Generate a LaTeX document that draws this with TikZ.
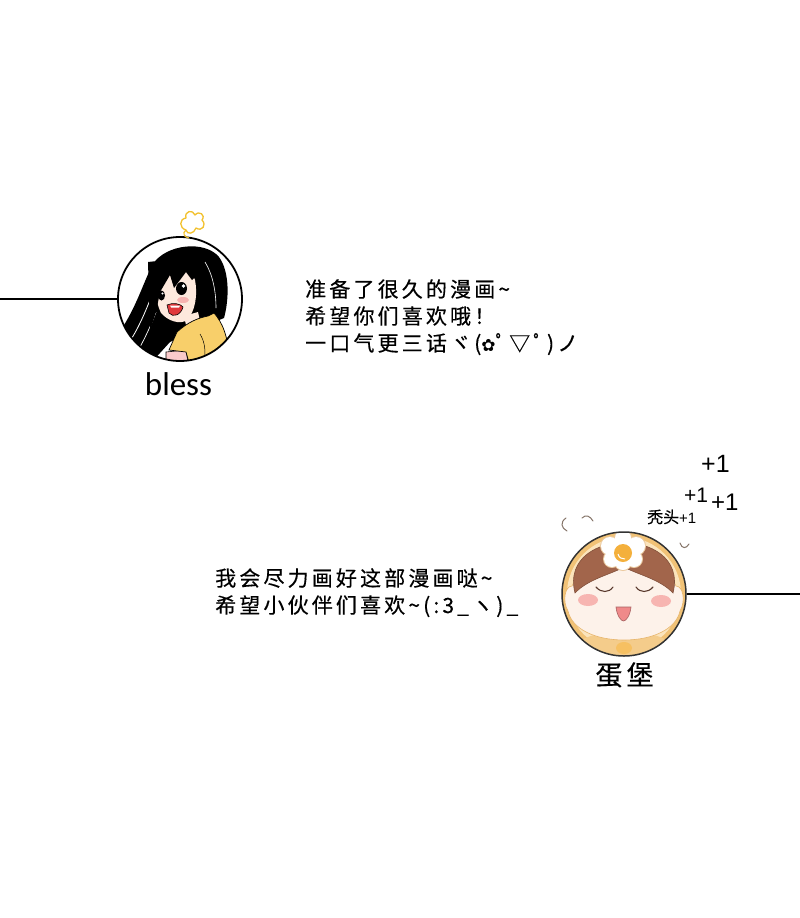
\documentclass[tikz,border=0pt]{standalone}
\usepackage{fontspec}
\setmainfont{Carlito}
\newfontfamily\cjk[LetterSpace=15,FakeBold=0.4]{Noto Sans CJK SC}
\newfontfamily\cjkn[FakeBold=0.3]{Noto Sans CJK SC}
\newfontfamily\dv{DejaVu Sans}
\newfontfamily\arl{Liberation Sans}
\definecolor{skin}{HTML}{FDE9DD}
\definecolor{shirt}{HTML}{F8CF6A}
\definecolor{blush}{HTML}{F6A7A6}
\definecolor{mouthred}{HTML}{E0393C}
\definecolor{flower}{HTML}{F2C12E}
\definecolor{rim}{HTML}{F1C276}
\definecolor{rimin}{HTML}{FBE4BC}
\definecolor{bun}{HTML}{FDF2EA}
\definecolor{hairb}{HTML}{A2654B}
\definecolor{yolk}{HTML}{F4B03C}
\definecolor{cheek}{HTML}{F7B5B1}
\definecolor{tongue}{HTML}{EF8A8A}
\definecolor{eyeb}{HTML}{5A3A2E}
\definecolor{squig}{HTML}{857468}
\tikzset{
  avatar/.style={circle, minimum size=124pt, inner sep=0pt, draw=black, line width=1.8pt},
  conn/.style={draw=black, line width=1.8pt},
  say/.style={anchor=base west, inner sep=0pt, font=\cjk\fontsize{21}{21}\selectfont},
  plus/.style={anchor=base west, inner sep=0pt, text=black},
}
\begin{document}
\begin{tikzpicture}[x=1pt,y=-1pt]
\path[use as bounding box, fill=white] (0,0) rectangle (800,918);

% ---------- avatar 1 : girl ----------
\begin{scope}
\clip (180,299) circle (62pt);
\fill[white] (180,299) circle (62pt);
% hair back
\fill[black] (112,342) .. controls (135,314) and (143,282) .. (153,264)
  .. controls (166,244) and (205,240) .. (219,257)
  .. controls (230,272) and (229,300) .. (224,318)
  -- (200,328) -- (170,342) -- (150,364) -- (120,364) -- cycle;
% white strand gaps
\draw[white, line width=0.8pt] (150,300) .. controls (142,320) and (135,335) .. (125,348);
\draw[white, line width=0.7pt] (156,312) .. controls (150,328) and (143,342) .. (135,356);
\draw[white, line width=0.6pt] (205,262) .. controls (213,275) and (216,292) .. (216,308);
% face
\fill[skin] (158,274) .. controls (172,263) and (191,266) .. (195,280)
  .. controls (198,295) and (195,312) .. (187,320)
  .. controls (180,325) and (168,321) .. (161,313)
  .. controls (155,300) and (154,286) .. (158,274) -- cycle;
\fill[skin] (184,316) -- (198,312) -- (202,330) -- (188,334) -- cycle;
% bangs
\fill[black] (148,262) -- (204,256) -- (198,274) -- (192,280) -- (186,272)
  -- (174,288) -- (170,275) -- (160,292) -- (156,312) -- (150,330) -- cycle;
% eyes
\fill[black] (181.5,288.5) ellipse [x radius=5.5pt, y radius=6.5pt];
\fill[white] (183.5,286) circle (1.9pt);
\fill[black] (161.5,295.5) ellipse [x radius=3.5pt, y radius=5pt];
\fill[white] (162.5,293.5) circle (1.2pt);
% blush
\fill[blush, opacity=0.8] (183,300) ellipse [x radius=6pt, y radius=3pt];
% mouth
\filldraw[fill=mouthred, draw=black, line width=0.6pt] (167,305) .. controls (173,302) and (181,304) .. (183,307)
  .. controls (181,315) and (173,318) .. (169,313) -- cycle;
\fill[white] (170,305.5) -- (180,305.5) -- (179,307.5) -- (171,307.5) -- cycle;
% arm
\filldraw[fill=blush!60, draw=black, line width=0.6pt] (166,352) -- (186,350) -- (188,362) -- (166,364) -- cycle;
% shirt
\filldraw[fill=shirt, draw=black, line width=0.7pt] (169,350) -- (177,332)
  .. controls (188,322) and (198,318) .. (208,316) -- (214,313)
  .. controls (222,322) and (228,335) .. (230,362) -- (190,366) -- (186,352) -- cycle;
\draw[black, line width=0.5pt] (200,334) .. controls (205,342) and (206,352) .. (204,362);
\end{scope}
\node[avatar] (a1) at (180,299) {};

% flower
\draw[flower, line width=1.3pt, line join=round]
  (186,230) .. controls (179,228) and (179,219) .. (186,218)
  .. controls (184,211) and (193,209) .. (195,215)
  .. controls (199,210) and (206,215) .. (202,220)
  .. controls (207,225) and (202,232) .. (196,228)
  .. controls (194,234) and (187,235) .. (186,230) -- cycle;
\draw[flower, line width=1.2pt] (186,230) .. controls (182,233) and (184,237) .. (189,238);

\coordinate (L1) at (0,299);
\draw[conn] (L1) -- (a1.west);

\node[anchor=base, inner sep=0pt, font=\fontsize{33}{33}\selectfont] (n1) at (178.5,395) {bless};

% ---------- text block 1 ----------
\node[say] (t1a) at (305,297) {准备了很久的漫画\textasciitilde};
\node[say] (t1b) at (305,324) {希望你们喜欢哦！};
\node[say] (t1c) at (305,351) {一口气更三话ヾ({\dv\fontsize{17}{17}\selectfont ✿}ﾟ▽ﾟ)ノ};

% ---------- avatar 2 : bun ----------
\begin{scope}
\clip (624,594) circle (62pt);
\fill[rim] (624,594) circle (62pt);
\fill[rimin] (624,594) circle (57pt);
\fill[rim!70!rimin] (624,661) ellipse [x radius=60pt, y radius=30pt];
\fill[yolk!70!rimin] (624,648) ellipse [x radius=8pt, y radius=6pt];
% face
\filldraw[fill=bun, draw=rim!80!brown, line width=0.6pt]
  (572,586) .. controls (565,586) and (562,601) .. (568,611)
  .. controls (572,629) and (595,640) .. (624,640)
  .. controls (653,640) and (676,629) .. (680,611)
  .. controls (686,601) and (683,586) .. (676,586)
  .. controls (670,571) and (645,561) .. (624,561)
  .. controls (603,561) and (578,571) .. (572,586) -- cycle;
% hair
\filldraw[fill=hairb, draw=hairb!80!black, line width=0.6pt]
  (575,593) .. controls (566,557) and (600,542) .. (624,543)
  .. controls (648,542) and (682,557) .. (673,593)
  .. controls (660,579) and (636,574) .. (624,567)
  .. controls (612,574) and (588,579) .. (575,593) -- cycle;
% egg white
\foreach \p/\r in {{(610,546)}/9,{(636,546)}/9,{(623,538)}/8,{(612,559)}/8,{(634,559)}/8,{(623,562)}/8}
  \fill[rim!60!brown!60] \p circle (\r pt + 1pt);
\foreach \p/\r in {{(610,546)}/9,{(636,546)}/9,{(623,538)}/8,{(612,559)}/8,{(634,559)}/8,{(623,562)}/8}
  \fill[white] \p circle (\r pt);
\fill[white] (623,551) circle (12pt);
\fill[yolk] (623,553) circle (9pt);
\draw[white, line width=1pt] (618,554) .. controls (619,558) and (622,559) .. (625,559);
% eyes
\draw[eyeb, line width=1.1pt, line cap=round] (596,587) .. controls (601,593) and (609,593) .. (613,587);
\draw[eyeb, line width=1.1pt, line cap=round] (636,587) .. controls (640,593) and (648,593) .. (653,587);
% cheeks
\fill[cheek] (588,600) ellipse [x radius=10pt, y radius=6pt];
\fill[cheek] (661,601) ellipse [x radius=10pt, y radius=6pt];
% mouth
\filldraw[fill=tongue, draw=tongue!70!black, line width=0.6pt]
  (616,607) -- (631,607) .. controls (630,616) and (626,621) .. (623.5,621)
  .. controls (621,621) and (617,616) .. (616,607) -- cycle;
\end{scope}
\node[avatar, draw=black!80, line width=1.5pt] (a2) at (624,594) {};

\coordinate (R2) at (800,594);
\draw[conn] (a2.east) -- (R2);

\node[anchor=base, inner sep=0pt, font=\cjkn\fontsize{27}{27}\selectfont] (n2) at (624.5,685) {蛋\hspace{4pt}堡};

% squiggles
\draw[squig, line width=1pt, line cap=round] (566,518) .. controls (560,522) and (561,528) .. (567,531);
\draw[squig, line width=1pt, line cap=round] (582,518) .. controls (586,514) and (590,516) .. (593,521);
\draw[squig, line width=1pt, line cap=round] (680,543) .. controls (682,549) and (686,549) .. (689,544);

% +1 labels
\node[plus, font=\arl\fontsize{25}{25}\selectfont] (p1) at (701,472) {+1};
\node[plus, font=\arl\fontsize{21}{21}\selectfont] (p2) at (684,502) {+1};
\node[plus, font=\arl\fontsize{24}{24}\selectfont] (p3) at (711,510) {+1};
\node[plus, font=\cjkn\fontsize{16}{16}\selectfont] (p4) at (647,523) {秃头{\arl\fontsize{15}{15}\selectfont +1}};

% ---------- text block 2 ----------
\node[say] (t2a) at (215,586) {我会尽力画好这部漫画哒\textasciitilde};
\node[say] (t2b) at (215,613) {希望小伙伴们喜欢\textasciitilde(:3\_ヽ)\_};
\end{tikzpicture}
\end{document}
